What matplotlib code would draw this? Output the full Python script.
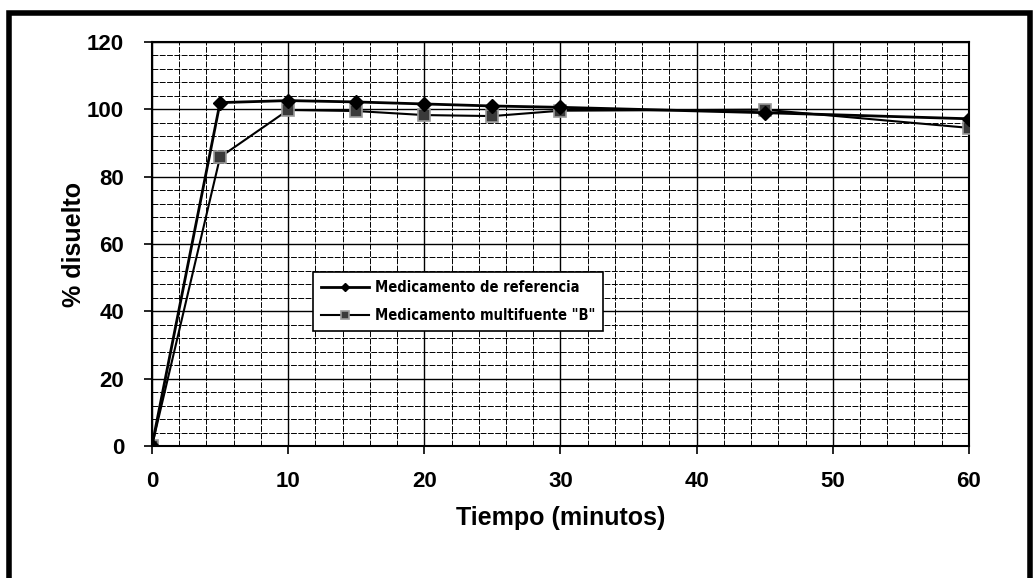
#!/usr/bin/env python3
import matplotlib
matplotlib.use('Agg')
import matplotlib.pyplot as plt
from matplotlib.patches import Rectangle
from matplotlib.ticker import MultipleLocator

# Dissolution profile data
tiempo = [0, 5, 10, 15, 20, 25, 30, 45, 60]
referencia = [0, 102.0, 102.6, 102.2, 101.6, 101.0, 100.6, 99.0, 97.2]
multifuente_b = [0, 85.8, 99.8, 99.5, 98.3, 98.0, 99.6, 99.9, 94.5]

label_ref = 'Medicamento de referencia'
label_b = 'Medicamento multifuente "B"'

plt.rcParams['font.family'] = ['Liberation Sans', 'DejaVu Sans']

fig = plt.figure(figsize=(10.33, 5.78), dpi=100)
ax = fig.add_axes([0.1471, 0.2284, 0.7909, 0.6989])

# outer frame of the scanned figure
fig.patches.append(Rectangle((0.009, -0.05), 0.988, 1.028, transform=fig.transFigure,
                             fill=False, edgecolor='black', linewidth=4))

ax.plot(tiempo, referencia, color='black', linewidth=2, marker='D', markersize=7,
        markerfacecolor='black', markeredgecolor='black', label=label_ref, zorder=4)
ax.plot(tiempo, multifuente_b, color='black', linewidth=1.5, marker='s', markersize=9,
        markerfacecolor='#3a3a3a', markeredgecolor='#999999', markeredgewidth=1.2,
        label=label_b, zorder=3)

ax.set_xlim(0, 60)
ax.set_ylim(0, 120)
ax.xaxis.set_major_locator(MultipleLocator(10))
ax.xaxis.set_minor_locator(MultipleLocator(2))
ax.yaxis.set_major_locator(MultipleLocator(20))
ax.yaxis.set_minor_locator(MultipleLocator(4))

ax.grid(which='major', color='black', linewidth=1.0)
ax.grid(which='minor', color='black', linewidth=0.7, linestyle=(0, (6, 1.5)))
ax.set_axisbelow(True)
for s in ax.spines.values():
    s.set_linewidth(1.5)

ax.tick_params(which='major', direction='out', length=6, width=1.2, labelsize=16)
ax.tick_params(axis='x', pad=12)
ax.tick_params(axis='y', pad=14)
ax.tick_params(which='minor', length=0)
for lbl in ax.get_xticklabels() + ax.get_yticklabels():
    lbl.set_fontweight('bold')

ax.set_xlabel('Tiempo (minutos)', fontsize=18, fontweight='bold', labelpad=10)
ax.set_ylabel('% disuelto', fontsize=18, fontweight='bold', labelpad=1)

leg = ax.legend(loc='center left', bbox_to_anchor=(0.197, 0.358), frameon=True,
                fancybox=False, edgecolor='black', framealpha=1,
                prop={'family': 'DejaVu Sans', 'stretch': 'condensed',
                      'weight': 'bold', 'size': 10.5},
                handlelength=3.3, handletextpad=0.4, markerscale=0.6,
                borderpad=0.55, labelspacing=0.9, borderaxespad=0)
leg.get_frame().set_linewidth(1.2)

fig.savefig('out.png', dpi=100)
